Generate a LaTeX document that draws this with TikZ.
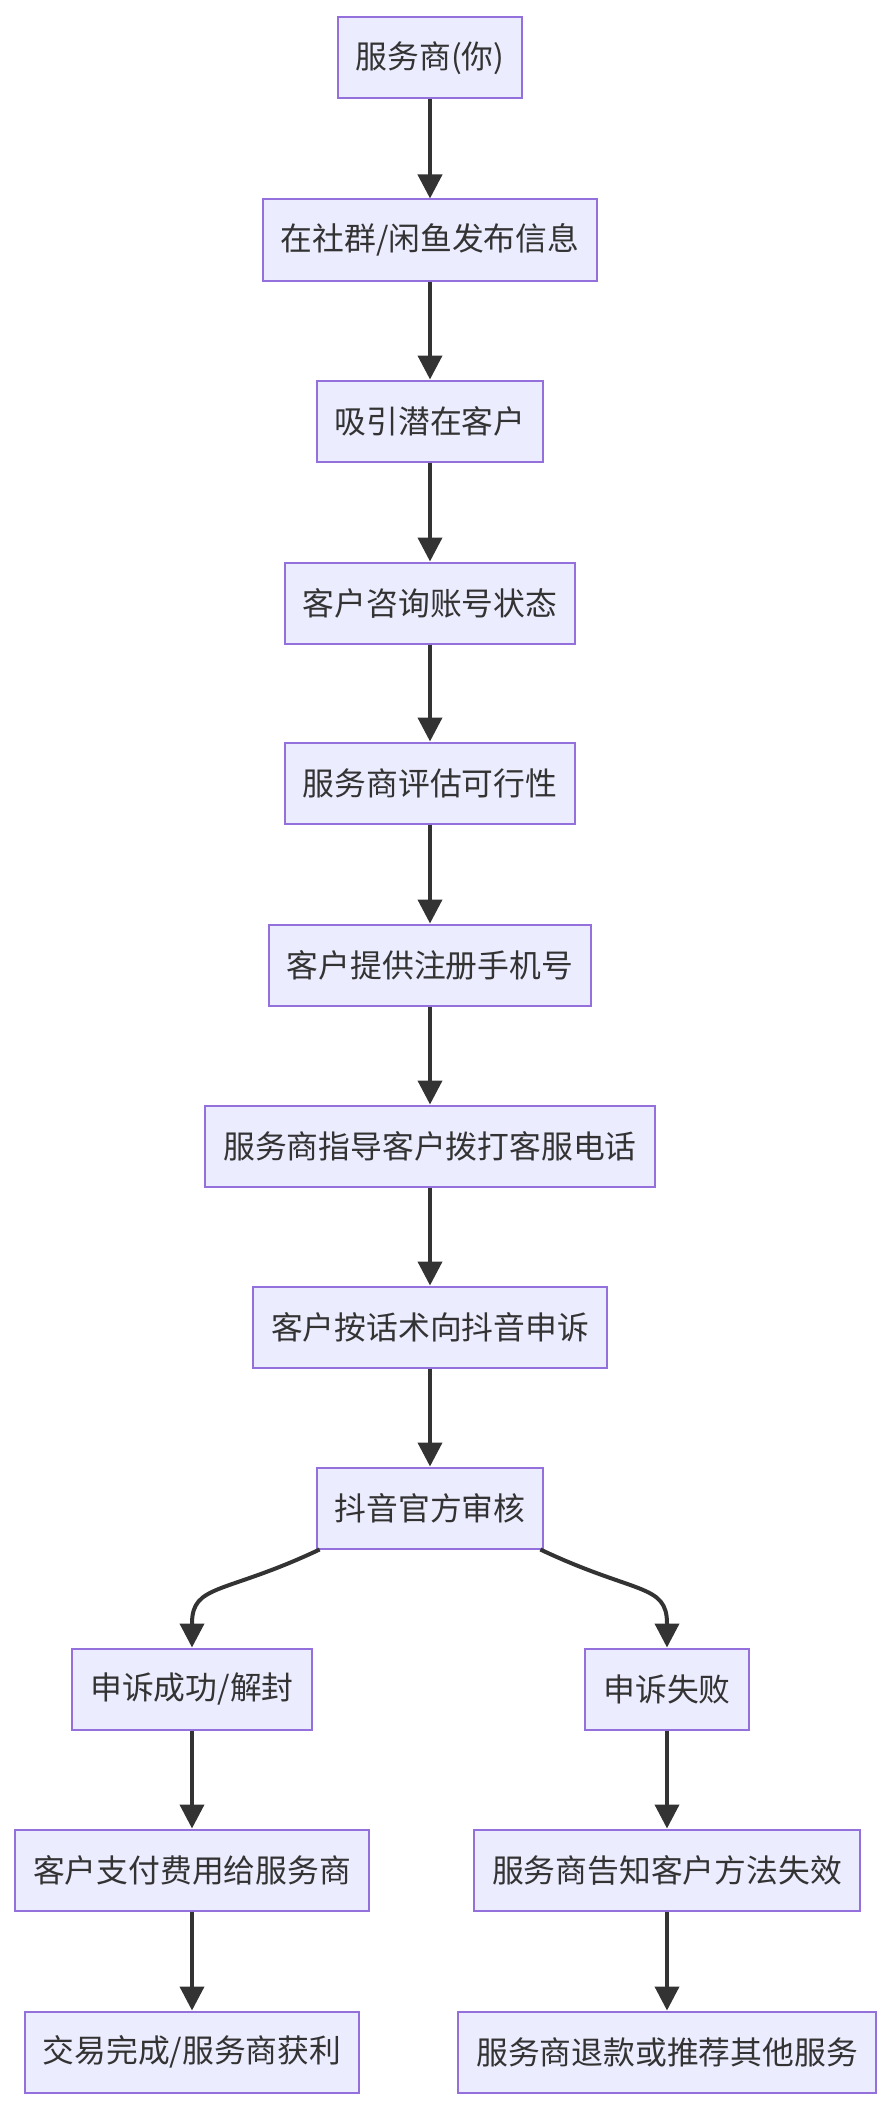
\documentclass[tikz,border=0pt]{standalone}
\usepackage{fontspec}
\setmainfont{Noto Sans CJK SC}
\usetikzlibrary{arrows.meta}
\definecolor{boxfill}{HTML}{ECECFF}
\definecolor{boxline}{HTML}{9370DB}
\definecolor{inkgray}{HTML}{333333}
\tikzset{
  stepbox/.style={draw=boxline,fill=boxfill,line width=1pt,inner xsep=9pt,
    minimum height=40.5pt,text=inkgray,font=\fontsize{15.9pt}{19pt}\selectfont},
  arr/.style={draw=inkgray,line width=2pt,-{Triangle[width=12pt,length=12pt]}}
}
\begin{document}
\begin{tikzpicture}[x=0.5pt,y=-0.5pt]
\def\xm{430}
\def\xl{192}
\def\xr{667}
\useasboundingbox (0,0) rectangle (892,2108);

\node[stepbox] (provider) at (\xm,58) {服务商(你)};
\node[stepbox] (post) at (\xm,240) {在社群/闲鱼发布信息};
\node[stepbox] (attract) at (\xm,421) {吸引潜在客户};
\node[stepbox] (consult) at (\xm,603) {客户咨询账号状态};
\node[stepbox] (assess) at (\xm,783) {服务商评估可行性};
\node[stepbox] (phone) at (\xm,965) {客户提供注册手机号};
\node[stepbox] (guide) at (\xm,1146) {服务商指导客户拨打客服电话};
\node[stepbox] (appeal) at (\xm,1327) {客户按话术向抖音申诉};
\node[stepbox] (audit) at (\xm,1508) {抖音官方审核};

\node[stepbox] (success) at (\xl,1689) {申诉成功/解封};
\node[stepbox] (pay) at (\xl,1870) {客户支付费用给服务商};
\node[stepbox] (done) at (\xl,2052) {交易完成/服务商获利};

\node[stepbox] (fail) at (\xr,1689) {申诉失败};
\node[stepbox] (notify) at (\xr,1870) {服务商告知客户方法失效};
\node[stepbox] (refund) at (\xr,2052) {服务商退款或推荐其他服务};

\draw[arr] (provider) -- (post);
\draw[arr] (post) -- (attract);
\draw[arr] (attract) -- (consult);
\draw[arr] (consult) -- (assess);
\draw[arr] (assess) -- (phone);
\draw[arr] (phone) -- (guide);
\draw[arr] (guide) -- (appeal);
\draw[arr] (appeal) -- (audit);

\draw[arr] ([xshift=2pt]audit.south west) .. controls +(-95,45) and +(0,-40) .. ([yshift=12pt]success.north) -- (success.north);
\draw[arr] ([xshift=-2pt]audit.south east) .. controls +(95,45) and +(0,-40) .. ([yshift=12pt]fail.north) -- (fail.north);

\draw[arr] (success) -- (pay);
\draw[arr] (pay) -- (done);
\draw[arr] (fail) -- (notify);
\draw[arr] (notify) -- (refund);
\end{tikzpicture}
\end{document}
